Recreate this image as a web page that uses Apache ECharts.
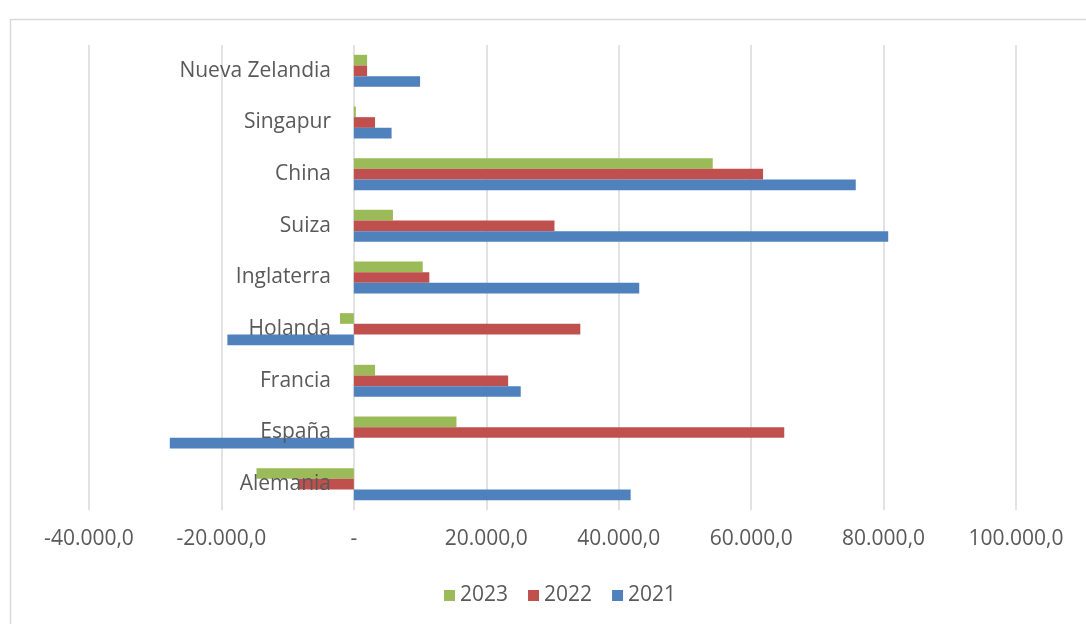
<!DOCTYPE html>
<html>
<head>
<meta charset="utf-8">
<script src="https://cdn.jsdelivr.net/npm/echarts@6/dist/echarts.min.js"></script>
<style>
  html, body { margin: 0; padding: 0; background: #fff; }
  #chart { width: 1086px; height: 624px; }
</style>
</head>
<body>
<div id="chart"></div>
<script>
// categories bottom to top (as on the y axis)
const paises = ['Alemania', 'España', 'Francia', 'Holanda', 'Inglaterra', 'Suiza', 'China', 'Singapur', 'Nueva Zelandia'];
const v2021 = [41800, -27800, 25200, -19100, 43100, 80700, 75800, 5700, 10000];
const v2022 = [-8400, 65000, 23300, 34200, 11400, 30300, 61800, 3200, 2000];
const v2023 = [-14700, 15500, 3200, -2100, 10400, 5900, 54200, 300, 2000];
const years = ['2023', '2022', '2021'];

const txt = '#595959';
const gridCol = '#d9d9d9';

function fmt(v) {
  if (v === 0) return '-';
  const neg = v < 0;
  const s = Math.abs(v).toFixed(0).replace(/\B(?=(\d{3})+(?!\d))/g, '.');
  return (neg ? '-' : '') + s + ',0';
}

const chart = echarts.init(document.getElementById('chart'));
const option = {
  animation: false,
  textStyle: { fontFamily: '"Open Sans", sans-serif' },
  graphic: [{
    type: 'rect',
    left: 8, top: 17,
    shape: { width: 1200, height: 800 },
    style: { fill: 'none', stroke: gridCol, lineWidth: 1.5 },
    silent: true
  }],
  grid: { left: 89, right: 70, top: 45, bottom: 114, outerBoundsMode: 'none' },
  legend: {
    data: years,
    left: 439, top: 580,
    icon: 'rect', itemWidth: 11, itemHeight: 11, itemGap: 20,
    textStyle: { color: txt, fontSize: 21 }
  },
  xAxis: {
    type: 'value',
    min: -40000, max: 100000, interval: 20000,
    axisLine: { show: false },
    axisTick: { show: false },
    splitLine: { lineStyle: { color: gridCol, width: 1.5 } },
    axisLabel: { color: txt, fontSize: 21, margin: 19, formatter: fmt }
  },
  yAxis: {
    type: 'category',
    data: paises,
    z: 10,
    // labels sit just left of the zero line, drawn over the bars
    axisLine: { show: false, onZero: false },
    axisTick: { show: false },
    axisLabel: { color: txt, fontSize: 21, margin: -242, padding: [4, 0, 0, 0] }
  },
  series: [
    { name: '2023', type: 'bar', data: v2023, itemStyle: { color: '#9BBB59' }, barGap: 0, barCategoryGap: '38%' },
    { name: '2022', type: 'bar', data: v2022, itemStyle: { color: '#C0504D' }, barGap: 0, barCategoryGap: '38%' },
    { name: '2021', type: 'bar', data: v2021, itemStyle: { color: '#4F81BD' }, barGap: 0, barCategoryGap: '38%' }
  ]
};
chart.setOption(option);
</script>
</body>
</html>
